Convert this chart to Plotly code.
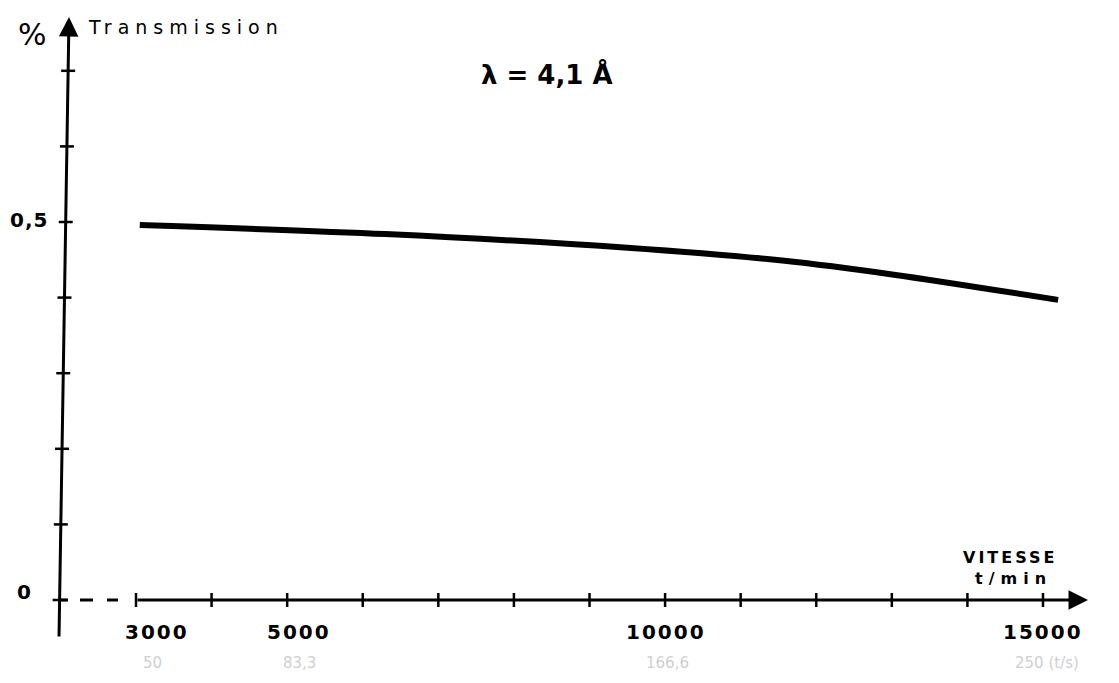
import plotly.graph_objects as go
import numpy as np

# ---- data ----
speed = [3050, 6300, 9500, 11550, 13050, 15200]          # r/min
transmission = [0.496, 0.484, 0.466, 0.449, 0.430, 0.397]  # %

x_ticks = [3000, 4000, 5000, 6000, 7000, 8000, 9000, 10000, 11000, 12000, 13000, 14000, 15000]
x_tick_labels = {3000: "3000", 5000: "5000", 10000: "10000", 15000: "15000"}
x_pencil_labels = {3000: "50", 5000: "83,3", 10000: "166,6", 15000: "250 (t/s)"}
y_ticks = [0, 0.1, 0.2, 0.3, 0.4, 0.5, 0.6, 0.7]
y_tick_labels = {0: "0", 0.5: "0,5"}

W, H = 1119, 683
X_RANGE = [1200.7, 16005.6]
Y_RANGE = [-0.10979, 0.79365]

def px_x(px):
    return X_RANGE[0] + px / W * (X_RANGE[1] - X_RANGE[0])

def px_y(py):
    return Y_RANGE[1] - py / H * (Y_RANGE[1] - Y_RANGE[0])

FONT = "DejaVu Sans"
fig = go.Figure()

# y axis (slightly tilted, hand drawn)
ya_bottom = (px_x(59), px_y(638))
ya_top = (px_x(69), px_y(17))

def axis_x_at(v):
    t = (v - ya_bottom[1]) / (ya_top[1] - ya_bottom[1])
    return ya_bottom[0] + t * (ya_top[0] - ya_bottom[0])

# x axis solid part + arrow
x_tip = px_x(1088)
fig.add_annotation(x=x_tip, y=0, ax=x_ticks[0], ay=0, axref="x", ayref="y",
                   xref="x", yref="y", text="", showarrow=True,
                   arrowhead=2, arrowsize=1.3, arrowwidth=3, arrowcolor="black")
# y axis + arrow
fig.add_annotation(x=ya_top[0], y=ya_top[1], ax=ya_bottom[0], ay=ya_bottom[1],
                   axref="x", ayref="y", xref="x", yref="y", text="", showarrow=True,
                   arrowhead=2, arrowsize=1.3, arrowwidth=3, arrowcolor="black")
# dashed broken part of x axis
for a, b in [(59, 68), (80, 93), (107, 118)]:
    fig.add_shape(type="line", x0=px_x(a), x1=px_x(b), y0=0, y1=0,
                  xref="x", yref="y", line=dict(color="black", width=3))

# x ticks
fig.add_trace(go.Scatter(x=x_ticks, y=[0] * len(x_ticks), mode="markers",
                         marker=dict(symbol="line-ns", size=10,
                                     line=dict(color="black", width=2.5)),
                         hoverinfo="skip", showlegend=False))
# y ticks
fig.add_trace(go.Scatter(x=[axis_x_at(v) for v in y_ticks], y=y_ticks, mode="markers",
                         marker=dict(symbol="line-ew", size=10,
                                     line=dict(color="black", width=2.5)),
                         hoverinfo="skip", showlegend=False))

# curve
fig.add_trace(go.Scatter(x=speed, y=transmission, mode="lines",
                         line=dict(color="black", width=6, shape="spline", smoothing=0.8),
                         hoverinfo="skip", showlegend=False))

def txt(text, x, y, size, bold=True, spacing=0, color="black", xshift=0, yshift=0,
        xanchor="center", xref="x", yref="y"):
    t = text
    if spacing:
        t = f'<span style="letter-spacing:{spacing}px">{t}</span>'
    if bold:
        t = f"<b>{t}</b>"
    fig.add_annotation(x=x, y=y, xref=xref, yref=yref, text=t, showarrow=False,
                       xanchor=xanchor, yanchor="middle", xshift=xshift, yshift=yshift,
                       font=dict(family=FONT, size=size, color=color))

# x tick labels
shifts = {3000: 21, 5000: 12, 10000: 1, 15000: 0}
for v, lab in x_tick_labels.items():
    txt(lab, v, 0, 20, spacing=2, xshift=shifts[v], yshift=-32)
pshifts = {3000: 16, 5000: 12, 10000: 2, 15000: 4}
for v, lab in x_pencil_labels.items():
    txt(lab, v, 0, 15, bold=False, color="#cfcfcf", xshift=pshifts[v], yshift=-63)

# y tick labels
txt("0,5", px_x(29), 0.5, 20, spacing=1, yshift=2)
txt("0", px_x(24), 0, 20, yshift=8)

# axis titles and annotation
txt("%", 32 / W, 1 - 34 / H, 30, bold=False, xref="paper", yref="paper")
txt("Transmission", 86 / W, 1 - 27 / H, 19, bold=False, spacing=6,
    xanchor="left", xref="paper", yref="paper")
txt("VITESSE", 1010 / W, 1 - 557 / H, 16, spacing=3, xref="paper", yref="paper")
txt("t/min", 1013 / W, 1 - 578 / H, 16, spacing=6, xref="paper", yref="paper")
txt("λ = 4,1 Å", 547 / W, 1 - 75 / H, 26, xref="paper", yref="paper")

fig.update_layout(
    width=W, height=H,
    margin=dict(l=0, r=0, t=0, b=0),
    paper_bgcolor="white", plot_bgcolor="white",
    xaxis=dict(range=X_RANGE, visible=False, fixedrange=True),
    yaxis=dict(range=Y_RANGE, visible=False, fixedrange=True),
    showlegend=False,
)
fig.write_html("out.html")
